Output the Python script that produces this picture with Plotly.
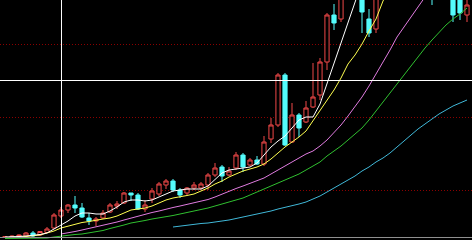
import plotly.graph_objects as go

# ---- data (price units; chart window shows 0..240) ----
idx = list(range(67))

opens = [2.5, 2.5, 3.5, 4, 7, 5, 7.5, 12, 24, 30,
         35, 32, 22, 19, 22, 28, 34, 37, 47, 45,
         31, 41, 46, 55, 59, 50, 47, 52, 52, 55,
         65, 73, 65, 72, 85, 75, 80, 76, 101, 115,
         165, 98, 125, 118, 133, 145, 178, 225, 221, 248,
         262, 255, 221, 211, 258, 275, 262, 280, 295, 278,
         266, 272, 250, 246, 250, 245, 225]
highs = [4, 4.5, 5.5, 8, 9, 9, 13, 27, 33, 36,
         44, 37, 27, 23, 30, 37, 39, 48, 47, 47,
         40, 52, 58, 61, 61, 52, 53, 58, 58, 67,
         77, 75, 73, 88, 87, 82, 84, 104, 122, 167,
         167, 137, 127, 139, 177, 182, 227, 236, 252, 266,
         280, 260, 231, 265, 280, 282, 286, 300, 302, 284,
         282, 276, 258, 262, 254, 248, 242]
lows = [2, 2, 3, 3, 3, 4, 7, 11, 22, 27,
        27, 22, 15, 14, 21, 27, 31, 36, 39, 30,
        28, 37, 44, 51, 48, 42, 45, 50, 50, 50,
        63, 58, 64, 70, 68, 74, 75, 74, 97, 113,
        94, 97, 103, 117, 132, 140, 170, 210, 218, 245,
        255, 207, 203, 207, 252, 258, 258, 276, 272, 260,
        250, 235, 241, 242, 218, 220, 218]
closes = [3.5, 4, 5, 7, 4, 8.5, 11, 25, 30, 35,
          32, 23, 19, 21, 27, 35, 36, 47, 45, 31,
          35, 49, 56, 59, 50, 45, 52, 55, 56, 65,
          72, 64, 69, 85, 73, 80, 76, 98, 115, 165,
          95, 125, 112, 132, 143, 178, 225, 217, 248, 262,
          275, 228, 207, 260, 275, 262, 280, 295, 278, 265,
          276, 250, 245, 255, 225, 227, 235]

N = None
ma5 = [3, 3, 3.5, 4, 4.5, 5.5, 7, 11, 15, 19,
       24, 27, 27, 26, 26, 29, 33, 38, 40, 40,
       39, 40, 43, 46, 49, 50, 51, 51, 51, 54,
       61, 67, 70, 71, 72, 73, 77, 85, 93, 99,
       104, 112, 120, 123, 123, 136, 157, 178, 198, 219,
       240, 258, N, N, N, N, N, N, N, N,
       N, N, N, N, N, N, N]
ma10 = [2.5, 2.5, 3, 3.5, 4, 5, 7, 9, 12, 14,
        16, 17.5, 18.5, 20, 21, 22, 24, 27, 30, 31,
        32, 34, 37, 40, 42, 43, 44.5, 46, 49, 52,
        56, 59, 63, 66, 69, 71, 73, 76, 81, 87,
        93, 98, 103, 109, 119, 130, 140, 150, 162, 176,
        185, 196, 209, 221, 239, 252, N, N, N, N,
        N, N, N, N, N, N, N]
ma20 = [N, N, N, N, N, N, N, N, 6, 7,
        8.5, 10, 11.5, 13, 15, 16.5, 18, 20, 22, 24,
        25.5, 27.5, 29, 31, 32.5, 34, 35.5, 37, 38.5, 40.5,
        43, 46, 49, 51.5, 54, 56.5, 59, 62, 66, 70,
        74, 78, 82, 86, 89, 94, 100, 107, 115, 124,
        133, 143, 154, 166, 177, 190, 203, 213, 223, 233,
        243, N, N, N, N, N, N]
ma30 = [1.5, 1.5, 1.5, 1.5, 1.5, 1.5, 2, 3, 4, 5,
        5.5, 6, 7, 8, 9.5, 11.5, 13, 15, 17, 18,
        19.5, 21, 22, 23, 24.5, 26, 27.5, 29, 30, 32,
        34, 36, 38, 40, 42, 45, 48, 51, 54, 57,
        60, 63, 66, 70, 74, 78, 84, 89, 94, 100,
        106, 112, 120, 129, 138, 147, 157, 166, 175, 184,
        192, 200, 208, 215, 221, 226, 232]
ma60 = [N, N, N, N, N, N, N, N, N, N,
        N, N, N, N, N, N, N, N, N, N,
        N, N, N, N, 13, 14, 15, 15.5, 16.5, 17,
        18, 18.5, 20, 21.5, 23, 24, 25.5, 27, 29, 31,
        32.5, 34, 36, 38, 41, 44, 48, 52, 56, 60,
        64, 69, 73, 78, 82, 87, 93, 99, 105, 111,
        116, 121, 126, 130, 134, 137, 140]

grid_levels = [49.5, 123, 195.5]
cross_x = 8.07
cross_y = 159.5
base_level = 2.5

RED = '#F04848'
CYAN = '#54FCFC'

fig = go.Figure()
fig.add_trace(go.Candlestick(
    x=idx, open=opens, high=highs, low=lows, close=closes,
    increasing=dict(line=dict(color=RED, width=1), fillcolor='#000000'),
    decreasing=dict(line=dict(color=CYAN, width=1), fillcolor=CYAN),
    whiskerwidth=0, hoverinfo='skip'))

for vals, col in [(ma60, '#40B8D8'), (ma30, '#30C030'), (ma20, '#E07CE0'),
                  (ma10, '#FFFF50'), (ma5, '#FFFFFF')]:
    fig.add_trace(go.Scatter(x=idx, y=vals, mode='lines',
                             line=dict(color=col, width=1), hoverinfo='skip'))

fig.add_shape(type='line', xref='x', yref='paper', x0=cross_x, x1=cross_x, y0=0, y1=1,
              line=dict(color='#FFFFFF', width=1), layer='above')
fig.add_shape(type='line', xref='paper', yref='y', x0=0, x1=1, y0=cross_y, y1=cross_y,
              line=dict(color='#FFFFFF', width=1), layer='above')
fig.add_shape(type='line', xref='paper', yref='y', x0=0, x1=1, y0=base_level, y1=base_level,
              line=dict(color='#909090', width=1), layer='above')

fig.update_layout(
    width=472, height=240, margin=dict(l=0, r=0, t=0, b=0),
    paper_bgcolor='#000000', plot_bgcolor='#000000', showlegend=False,
    boxgap=0.15,
    xaxis=dict(range=[-5 / 7, 467 / 7], showgrid=False, zeroline=False,
               showticklabels=False, ticks='', rangeslider=dict(visible=False),
               showline=False),
    yaxis=dict(range=[0, 240], tickvals=grid_levels, showgrid=True,
               gridcolor='#8B0000', griddash='1px,2px', gridwidth=1,
               zeroline=False, showticklabels=False, ticks='', showline=False),
)
fig.write_html('out.html')
